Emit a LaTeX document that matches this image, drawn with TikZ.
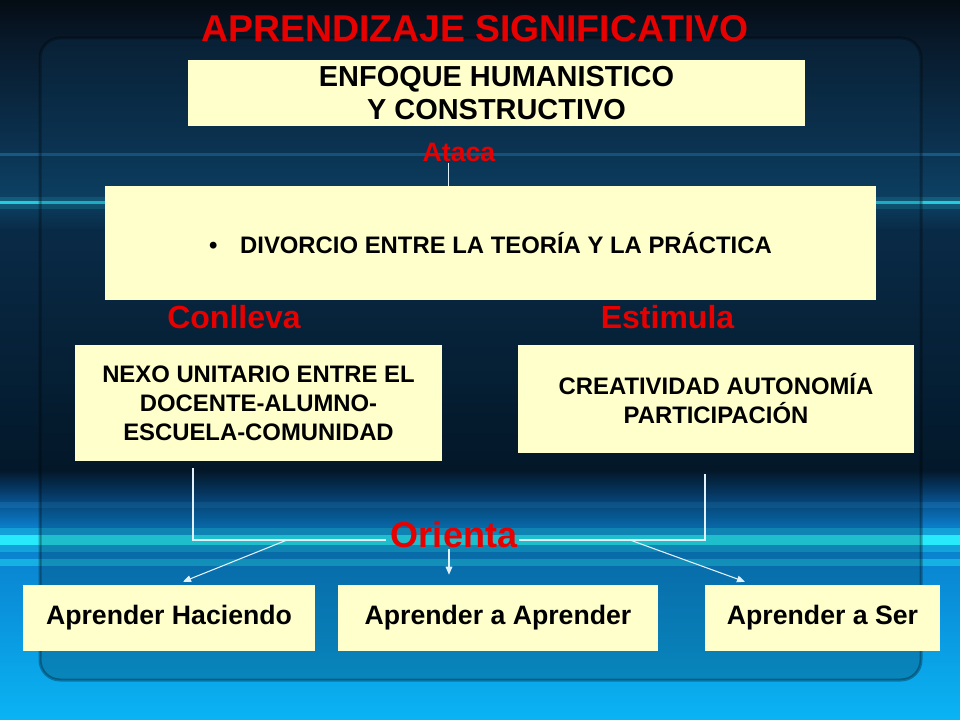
\documentclass[tikz,border=0pt]{standalone}
\usepackage{fontspec}
\setmainfont{Liberation Sans}
\usetikzlibrary{arrows.meta,calc}
\definecolor{boxyellow}{HTML}{FFFFCC}
\definecolor{linkred}{HTML}{E60000}
\definecolor{wirewhite}{HTML}{E2F2FC}
\definecolor{skyA}{HTML}{050C14}
\definecolor{skyAA}{HTML}{08192A}
\definecolor{skyB}{HTML}{0B3352}
\definecolor{skyBB}{HTML}{0D4266}
\definecolor{skyC}{HTML}{092A46}
\definecolor{skyD}{HTML}{03182A}
\definecolor{skyE}{HTML}{07457A}
\definecolor{skyF}{HTML}{0A7CC8}
\definecolor{skyFF}{HTML}{0A90DA}
\definecolor{skyG}{HTML}{0AB4F4}
\definecolor{glow}{HTML}{2AF2FF}
\definecolor{haze}{HTML}{2A90D0}
\newdimen\pxu \pxu=0.75pt
\tikzset{
conceptbox/.style={
  rectangle,
  fill=boxyellow,
  inner sep=0pt,
  align=center,
  text=black,
  font=\bfseries\fontsize{17.9}{21.75}\selectfont,
  }
}
\tikzset{
linklabel/.style={
  inner sep=0pt,
  anchor=base,
  text=linkred,
  font=\bfseries\fontsize{24}{28}\selectfont,
  }
}
\tikzset{
wire/.style={
  line width=0.8pt,
  draw=wirewhite,
  }
}
\tikzset{
wirearrow/.style={
  wire,
  -{Triangle[length=6pt,width=5pt]}
  }
}

\begin{document}
\begin{tikzpicture}[x=0.75pt,y=-0.75pt]
    \useasboundingbox (0,0) rectangle (960,720);
    % background
    \foreach \ya/\yb/\ca/\cb in {0/40/skyA/skyAA, 40/150/skyAA/skyB, 150/200/skyB/skyBB, 200/230/skyBB/skyC, 230/470/skyC/skyD, 470/495/skyD/skyE, 495/525/skyE/skyF, 525/600/skyF/skyFF, 600/720/skyFF/skyG}
      \shade[top color=\ca, bottom color=\cb] (0,\ya) rectangle (960,\yb+1);
    \foreach \yy/\ww/\op/\cc in {155/3/0.4/haze, 203/12/0.15/glow, 203/3/0.75/glow, 505/6/0.25/haze, 540/24/0.3/glow, 540/10/0.9/glow, 562/7/0.4/glow}
      \draw[\cc, line width=\ww\pxu, opacity=\op] (0,\yy) -- (960,\yy);
    \shade[top color=skyBB, bottom color=black, opacity=0.2, rounded corners=20\pxu] (40,38) rectangle (921,680);
    \draw[black, line width=3\pxu, opacity=0.3, rounded corners=20\pxu] (40,38) rectangle (921,680);

    % title
    \node[linklabel, font=\bfseries\fontsize{28}{32}\selectfont] (title) at (475,42) {APRENDIZAJE SIGNIFICATIVO};

    % upper part
    \node[conceptbox, minimum width=617\pxu, minimum height=66\pxu, font=\bfseries\fontsize{21.7}{25}\selectfont] (enfoque) at (496.5,93) {ENFOQUE HUMANISTICO\\ Y CONSTRUCTIVO};
    \node[linklabel, font=\bfseries\fontsize{20}{24}\selectfont] (ataca) at (459,162) {Ataca};
    \node[conceptbox, minimum width=771\pxu, minimum height=114\pxu] (divorcio) at (490.5,243) {\textbullet\hspace{17pt}DIVORCIO ENTRE LA TEORÍA Y LA PRÁCTICA};

    % middle part
    \node[linklabel] (conlleva) at (234,328) {Conlleva};
    \node[linklabel] (estimula) at (667.5,328) {Estimula};
    \node[conceptbox, minimum width=367\pxu, minimum height=116\pxu] (nexo) at (258.5,403) {NEXO UNITARIO ENTRE EL\\ DOCENTE-ALUMNO-\\ ESCUELA-COMUNIDAD};
    \node[conceptbox, minimum width=396\pxu, minimum height=108\pxu] (crea) at (716,399) {CREATIVIDAD AUTONOMÍA\\ PARTICIPACIÓN};

    % lower part
    \node[linklabel, font=\bfseries\fontsize{27}{30}\selectfont] (orienta) at (454,547) {Orienta};
    \node[conceptbox, minimum width=292\pxu, minimum height=66\pxu, font=\bfseries\fontsize{20}{24}\selectfont] (hacer) at (169,618) {Aprender Haciendo};
    \node[conceptbox, minimum width=320\pxu, minimum height=66\pxu, font=\bfseries\fontsize{20}{24}\selectfont] (aprender) at (498,618) {Aprender a Aprender};
    \node[conceptbox, minimum width=235\pxu, minimum height=66\pxu, font=\bfseries\fontsize{20}{24}\selectfont] (ser) at (822.5,618) {Aprender a Ser};

    % link coordinates
    \coordinate (ataca-foot) at (448.5,163);
    \coordinate (nexo-foot) at (193,468);
    \coordinate (crea-foot) at (705,474);
    \coordinate (join-l) at (386,540);
    \coordinate (join-r) at (519,540);
    \coordinate (fork-l) at (287,540);
    \coordinate (fork-m) at (449,549);
    \coordinate (fork-r) at (630,540);

    % edges
    \draw[wire] (ataca-foot) -- (ataca-foot |- divorcio.north);
    \draw[wire] (nexo-foot) |- (join-l);
    \draw[wire] (join-r) -| (crea-foot);
    \draw[wirearrow] (fork-l) -- ($(hacer.north)+(14,-3)$);
    \draw[wirearrow] (fork-m) -- ($(fork-m |- aprender.north)+(0,-10)$);
    \draw[wirearrow] (fork-r) -- ($(ser.north)+(-77.5,-3)$);
\end{tikzpicture}
\end{document}
